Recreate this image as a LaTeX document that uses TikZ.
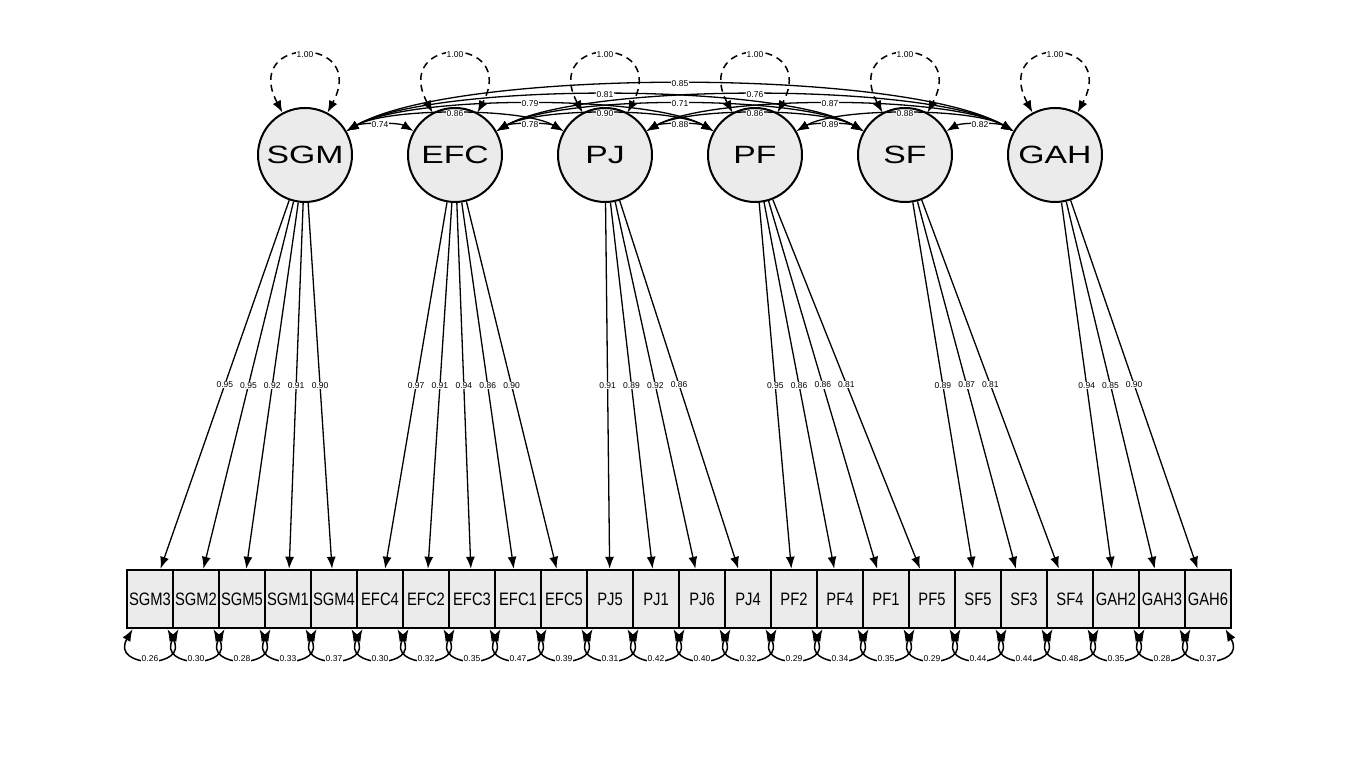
\documentclass[tikz,border=0pt]{standalone}
\usepackage{fontspec}
\setmainfont{Liberation Sans}
\newfontfamily\latfont[FakeStretch=1.35]{Liberation Sans}
\newfontfamily\obsfont[FakeStretch=0.82]{Liberation Sans}
\usetikzlibrary{arrows.meta}

\begin{document}
\begin{tikzpicture}[
    x=1pt, y=1pt,
    >={Latex[length=12pt,width=9pt]},
    line width=1.3pt,
    latent/.style={
        circle,
        draw=black,
        line width=2pt,
        fill=black!8,
        minimum size=94pt,
        inner sep=0pt,
        font=\latfont\fontsize{25}{25}\selectfont
    },
    manifest/.style={
        rectangle,
        draw=black,
        line width=2.4pt,
        fill=black!8,
        minimum width=46pt,
        minimum height=58pt,
        inner sep=0pt,
        font=\obsfont\fontsize{18}{18}\selectfont
    },
    lab/.style={fill=white, inner sep=0.6pt, font=\fontsize{8.5}{8.5}\selectfont},
    load/.style={->},
    cov/.style={<->, out=30, in=150, looseness=#1},
    var/.style={<->, line width=1.5pt, dash pattern=on 7pt off 5pt, out=118, in=62, min distance=88pt},
    resid/.style={<->, line width=1.5pt, out=-120, in=-60, min distance=46pt},
]
\useasboundingbox (0,0) rectangle (1350,759);

% latent factors
\node[latent] (SGM) at (305,604) {SGM};
\node[latent] (EFC) at (455,604) {EFC};
\node[latent] (PJ)  at (605,604) {PJ};
\node[latent] (PF)  at (755,604) {PF};
\node[latent] (SF)  at (905,604) {SF};
\node[latent] (GAH) at (1055,604) {GAH};

% indicators
\node[manifest] (SGM3) at (150,160) {SGM3};
\node[manifest] (SGM2) at (196,160) {SGM2};
\node[manifest] (SGM5) at (242,160) {SGM5};
\node[manifest] (SGM1) at (288,160) {SGM1};
\node[manifest] (SGM4) at (334,160) {SGM4};
\node[manifest] (EFC4) at (380,160) {EFC4};
\node[manifest] (EFC2) at (426,160) {EFC2};
\node[manifest] (EFC3) at (472,160) {EFC3};
\node[manifest] (EFC1) at (518,160) {EFC1};
\node[manifest] (EFC5) at (564,160) {EFC5};
\node[manifest] (PJ5)  at (610,160) {PJ5};
\node[manifest] (PJ1)  at (656,160) {PJ1};
\node[manifest] (PJ6)  at (702,160) {PJ6};
\node[manifest] (PJ4)  at (748,160) {PJ4};
\node[manifest] (PF2)  at (794,160) {PF2};
\node[manifest] (PF4)  at (840,160) {PF4};
\node[manifest] (PF1)  at (886,160) {PF1};
\node[manifest] (PF5)  at (932,160) {PF5};
\node[manifest] (SF5)  at (978,160) {SF5};
\node[manifest] (SF3)  at (1024,160) {SF3};
\node[manifest] (SF4)  at (1070,160) {SF4};
\node[manifest] (GAH2) at (1116,160) {GAH2};
\node[manifest] (GAH3) at (1162,160) {GAH3};
\node[manifest] (GAH6) at (1208,160) {GAH6};

% loadings
\draw[load] (SGM) -- node[lab] {0.95} (SGM3);
\draw[load] (SGM) -- node[lab] {0.95} (SGM2);
\draw[load] (SGM) -- node[lab] {0.92} (SGM5);
\draw[load] (SGM) -- node[lab] {0.91} (SGM1);
\draw[load] (SGM) -- node[lab] {0.90} (SGM4);
\draw[load] (EFC) -- node[lab] {0.97} (EFC4);
\draw[load] (EFC) -- node[lab] {0.91} (EFC2);
\draw[load] (EFC) -- node[lab] {0.94} (EFC3);
\draw[load] (EFC) -- node[lab] {0.86} (EFC1);
\draw[load] (EFC) -- node[lab] {0.90} (EFC5);
\draw[load] (PJ)  -- node[lab] {0.91} (PJ5);
\draw[load] (PJ)  -- node[lab] {0.89} (PJ1);
\draw[load] (PJ)  -- node[lab] {0.92} (PJ6);
\draw[load] (PJ)  -- node[lab] {0.86} (PJ4);
\draw[load] (PF)  -- node[lab] {0.95} (PF2);
\draw[load] (PF)  -- node[lab] {0.86} (PF4);
\draw[load] (PF)  -- node[lab] {0.86} (PF1);
\draw[load] (PF)  -- node[lab] {0.81} (PF5);
\draw[load] (SF)  -- node[lab] {0.89} (SF5);
\draw[load] (SF)  -- node[lab] {0.87} (SF3);
\draw[load] (SF)  -- node[lab] {0.81} (SF4);
\draw[load] (GAH) -- node[lab] {0.94} (GAH2);
\draw[load] (GAH) -- node[lab] {0.85} (GAH3);
\draw[load] (GAH) -- node[lab] {0.90} (GAH6);

% factor covariances
\draw[cov=0.66]  (SGM) to node[lab] {0.74} (EFC);
\draw[cov=0.66]  (EFC) to node[lab] {0.78} (PJ);
\draw[cov=0.66]  (PJ)  to node[lab] {0.88} (PF);
\draw[cov=0.66]  (PF)  to node[lab] {0.89} (SF);
\draw[cov=0.66]  (SF)  to node[lab] {0.82} (GAH);
\draw[cov=0.556] (SGM) to node[lab] {0.86} (PJ);
\draw[cov=0.556] (EFC) to node[lab] {0.90} (PF);
\draw[cov=0.556] (PJ)  to node[lab] {0.86} (SF);
\draw[cov=0.556] (PF)  to node[lab] {0.88} (GAH);
\draw[cov=0.507] (SGM) to node[lab] {0.79} (PF);
\draw[cov=0.507] (EFC) to node[lab] {0.71} (SF);
\draw[cov=0.507] (PJ)  to node[lab] {0.87} (GAH);
\draw[cov=0.483] (SGM) to node[lab] {0.81} (SF);
\draw[cov=0.483] (EFC) to node[lab] {0.76} (GAH);
\draw[cov=0.486] (SGM) to node[lab] {0.85} (GAH);

% factor variances
\draw[var] (SGM) to node[lab] {1.00} (SGM);
\draw[var] (EFC) to node[lab] {1.00} (EFC);
\draw[var] (PJ)  to node[lab] {1.00} (PJ);
\draw[var] (PF)  to node[lab] {1.00} (PF);
\draw[var] (SF)  to node[lab] {1.00} (SF);
\draw[var] (GAH) to node[lab] {1.00} (GAH);

% residual variances
\draw[resid] (SGM3) to node[lab] {0.26} (SGM3);
\draw[resid] (SGM2) to node[lab] {0.30} (SGM2);
\draw[resid] (SGM5) to node[lab] {0.28} (SGM5);
\draw[resid] (SGM1) to node[lab] {0.33} (SGM1);
\draw[resid] (SGM4) to node[lab] {0.37} (SGM4);
\draw[resid] (EFC4) to node[lab] {0.30} (EFC4);
\draw[resid] (EFC2) to node[lab] {0.32} (EFC2);
\draw[resid] (EFC3) to node[lab] {0.35} (EFC3);
\draw[resid] (EFC1) to node[lab] {0.47} (EFC1);
\draw[resid] (EFC5) to node[lab] {0.39} (EFC5);
\draw[resid] (PJ5)  to node[lab] {0.31} (PJ5);
\draw[resid] (PJ1)  to node[lab] {0.42} (PJ1);
\draw[resid] (PJ6)  to node[lab] {0.40} (PJ6);
\draw[resid] (PJ4)  to node[lab] {0.32} (PJ4);
\draw[resid] (PF2)  to node[lab] {0.29} (PF2);
\draw[resid] (PF4)  to node[lab] {0.34} (PF4);
\draw[resid] (PF1)  to node[lab] {0.35} (PF1);
\draw[resid] (PF5)  to node[lab] {0.29} (PF5);
\draw[resid] (SF5)  to node[lab] {0.44} (SF5);
\draw[resid] (SF3)  to node[lab] {0.44} (SF3);
\draw[resid] (SF4)  to node[lab] {0.48} (SF4);
\draw[resid] (GAH2) to node[lab] {0.35} (GAH2);
\draw[resid] (GAH3) to node[lab] {0.28} (GAH3);
\draw[resid] (GAH6) to node[lab] {0.37} (GAH6);

\end{tikzpicture}
\end{document}
